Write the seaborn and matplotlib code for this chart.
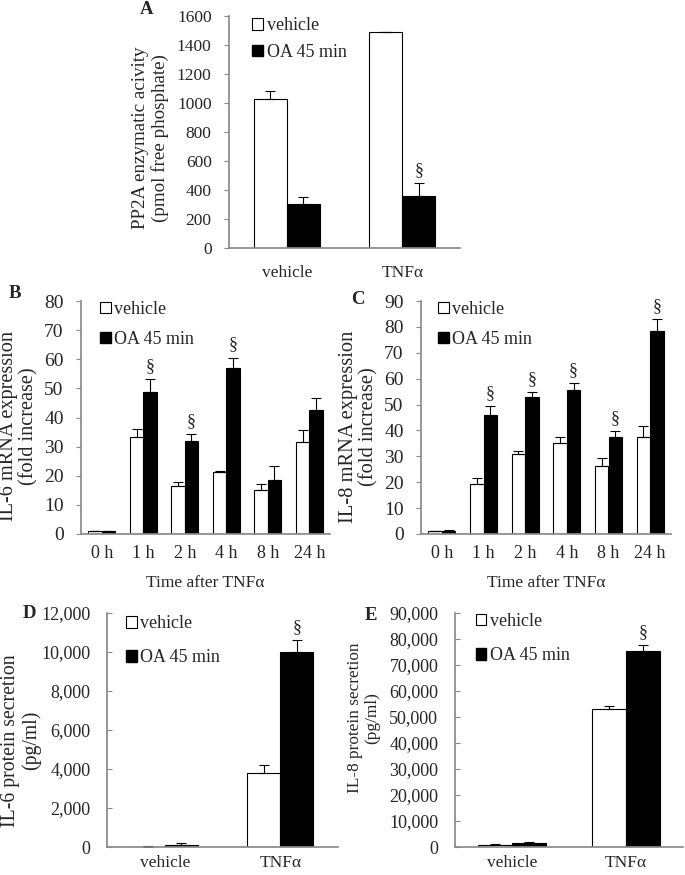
import numpy as np
import pandas as pd
import matplotlib
matplotlib.use("Agg")
import matplotlib.pyplot as plt
from matplotlib.patches import Patch
from matplotlib.font_manager import FontProperties
from matplotlib.ticker import FuncFormatter
import seaborn as sns

# data
treatments = ["vehicle", "OA 45 min"]
groups = ["vehicle", "TNFα"]
hours = ["0 h", "1 h", "2 h", "4 h", "8 h", "24 h"]

# A: PP2A activity
pp2a_veh = [1030, 1487]
pp2a_veh_err = [52, 5]
pp2a_oa = [300, 361]
pp2a_oa_err = [53, 85]
pp2a_sig = [False, True]

# B: IL-6 mRNA
il6_mrna_veh = [0.9, 33.4, 16.5, 21.3, 15.1, 31.7]
il6_mrna_veh_err = [0.2, 2.5, 1.3, 0.5, 2.0, 4.0]
il6_mrna_oa = [1.0, 48.6, 32.0, 57.0, 18.5, 42.7]
il6_mrna_oa_err = [0.2, 4.5, 2.3, 3.6, 4.8, 3.9]
il6_mrna_sig = [False, True, True, True, False, False]

# C: IL-8 mRNA
il8_mrna_veh = [1.0, 19.5, 30.8, 35.2, 26.4, 37.5]
il8_mrna_veh_err = [0.2, 2.0, 1.3, 2.3, 2.8, 4.2]
il8_mrna_oa = [1.3, 46.1, 53.0, 55.5, 37.5, 78.3]
il8_mrna_oa_err = [0.2, 3.2, 1.8, 2.8, 2.2, 4.6]
il8_mrna_sig = [False, True, True, True, True, True]

# D: IL-6 protein
il6_prot_veh = [20, 3820]
il6_prot_veh_err = [10, 410]
il6_prot_oa = [90, 9980]
il6_prot_oa_err = [130, 630]
il6_prot_sig = [False, True]

# E: IL-8 protein
il8_prot_veh = [900, 52970]
il8_prot_veh_err = [100, 1300]
il8_prot_oa = [1540, 75470]
il8_prot_oa_err = [500, 2200]
il8_prot_sig = [False, True]

sns.set_theme(style="ticks")
SERIF = ["Liberation Serif", "DejaVu Serif"]
plt.rcParams["font.family"] = SERIF
plt.rcParams["font.size"] = 12

W, H = 685, 875
fig = plt.figure(figsize=(W / 100, H / 100), dpi=100)
SPINE = "#8a8a8a"


def px_axes(left, right, top, bottom):
    return fig.add_axes([left / W, 1 - bottom / H, (right - left) / W, (bottom - top) / H])


def panel(ax, cats, veh, veh_err, oa, oa_err, sig, width, yticks, ylabel,
          label_xy, label_size, label_ls, ytick_size, xtick_size, tick_dir,
          legend_xy, labelspacing, xpad, thousands=False):
    n = len(cats)
    df = pd.DataFrame({
        "cat": cats * 2,
        "treatment": [treatments[0]] * n + [treatments[1]] * n,
        "value": veh + oa,
    })
    sns.barplot(data=df, x="cat", y="value", hue="treatment", hue_order=treatments,
                palette={treatments[0]: "white", treatments[1]: "black"}, saturation=1,
                edgecolor="black", linewidth=0.8, width=width, errorbar=None,
                legend=False, ax=ax)
    for cont, err in zip(ax.containers, [veh_err, oa_err]):
        xs = [b.get_x() + b.get_width() / 2 for b in cont]
        ys = [b.get_height() for b in cont]
        ax.errorbar(xs, ys, yerr=[np.zeros(n), err], fmt="none", ecolor="black",
                    elinewidth=0.8, capsize=3.5, capthick=0.8)
    for b, e, s in zip(ax.containers[1], oa_err, sig):
        if s:
            ax.annotate("§", (b.get_x() + b.get_width() / 2, b.get_height() + e),
                        xytext=(0, 3), textcoords="offset points",
                        ha="center", va="bottom", fontsize=13)
    ax.set_xlim(-0.5, n - 0.5)
    ax.set_ylim(yticks[0], yticks[-1])
    ax.set_yticks(yticks)
    if thousands:
        ax.yaxis.set_major_formatter(FuncFormatter(lambda v, p: f"{int(v):,}"))
    ax.set_xlabel("")
    ax.set_ylabel(ylabel, va="center", linespacing=label_ls, fontsize=label_size)
    ax.yaxis.set_label_coords(*label_xy)
    sns.despine(ax=ax)
    ax.spines["left"].set_color(SPINE)
    ax.spines["bottom"].set_color(SPINE)
    pad = 12 if tick_dir == "in" else 9
    ax.tick_params(axis="y", direction=tick_dir, length=3.5, width=0.8, color=SPINE,
                   pad=pad, labelsize=ytick_size)
    ax.tick_params(axis="x", length=0, pad=xpad, labelsize=xtick_size)
    handles = [Patch(facecolor="white", edgecolor="black", linewidth=0.8),
               Patch(facecolor="black", edgecolor="black")]
    ax.legend(handles, treatments, loc="upper left", bbox_to_anchor=legend_xy,
              frameon=False, borderpad=0, borderaxespad=0, handlelength=0.6,
              handleheight=0.6, handletextpad=0.2, labelspacing=labelspacing,
              prop=FontProperties(family="Liberation Serif", size=13))


axA = px_axes(229, 460, 16, 248)
panel(axA, groups, pp2a_veh, pp2a_veh_err, pp2a_oa, pp2a_oa_err, pp2a_sig, 0.57,
      list(range(0, 1601, 200)), "PP2A enzymatic acivity\n(pmol free phosphate)",
      (-0.34, 0.474), 13.7, 1.2, 12.5, 12.5, "out", (0.1, 0.995), 0.55, 12)

axB = px_axes(81, 330, 301, 534)
panel(axB, hours, il6_mrna_veh, il6_mrna_veh_err, il6_mrna_oa, il6_mrna_oa_err,
      il6_mrna_sig, 0.65, list(range(0, 81, 10)), "IL-6 mRNA expression\n(fold increase)",
      (-0.249, 0.463), 14.6, 1.1, 14, 13, "out", (0.075, 1.0), 0.7, 8)
axB.set_xlabel("Time after TNFα", fontsize=12.5, labelpad=9)

axC = px_axes(421, 671, 301, 534)
panel(axC, hours, il8_mrna_veh, il8_mrna_veh_err, il8_mrna_oa, il8_mrna_oa_err,
      il8_mrna_sig, 0.65, list(range(0, 91, 10)), "IL-8 mRNA expression\n(fold increase)",
      (-0.248, 0.46), 14.8, 1.1, 14, 13, "out", (0.068, 1.0), 0.7, 8)
axC.set_xlabel("Time after TNFα", fontsize=12.5, labelpad=9)

axD = px_axes(107, 338, 613, 847)
panel(axD, groups, il6_prot_veh, il6_prot_veh_err, il6_prot_oa, il6_prot_oa_err,
      il6_prot_sig, 0.57, list(range(0, 12001, 2000)), "IL-6 protein secretion\n(pg/ml)",
      (-0.372, 0.455), 14.2, 1.08, 13, 12.5, "in", (0.082, 0.99), 0.95, 6, thousands=True)

axE = px_axes(455, 683, 613, 847)
panel(axE, groups, il8_prot_veh, il8_prot_veh_err, il8_prot_oa, il8_prot_oa_err,
      il8_prot_sig, 0.6, list(range(0, 90001, 10000)), "IL-8 protein secretion\n(pg/ml)",
      (-0.40, 0.551), 12.4, 1.1, 13, 12.5, "in", (0.09, 1.0), 0.95, 6, thousands=True)

for letter, x, y in [("A", 147, 10), ("B", 15, 293), ("C", 358, 300),
                     ("D", 29, 614), ("E", 371, 616)]:
    fig.text(x / W, 1 - y / H, letter, ha="center", va="center",
             fontsize=13.5, fontweight="bold")

fig.savefig("out.png", dpi=100)
